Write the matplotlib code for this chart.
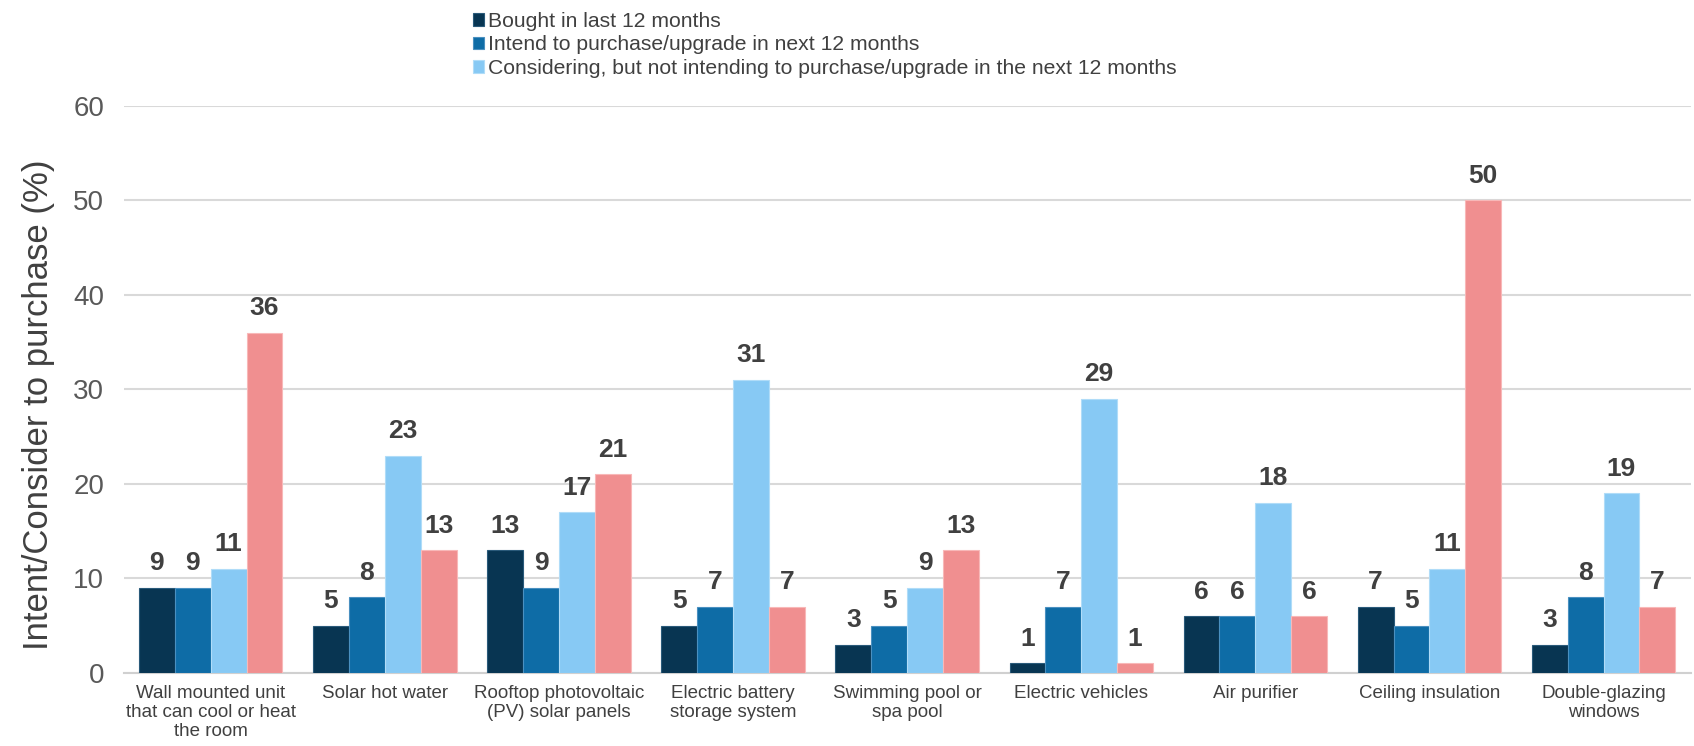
import matplotlib
matplotlib.use("Agg")
import matplotlib.pyplot as plt
import numpy as np

categories = ["Wall mounted unit\nthat can cool or heat\nthe room", "Solar hot water",
              "Rooftop photovoltaic\n(PV) solar panels", "Electric battery\nstorage system",
              "Swimming pool or\nspa pool", "Electric vehicles", "Air purifier",
              "Ceiling insulation", "Double-glazing\nwindows"]
bought = [9, 5, 13, 5, 3, 1, 6, 7, 3]
intend = [9, 8, 9, 7, 5, 7, 6, 5, 8]
considering = [11, 23, 17, 31, 9, 29, 18, 11, 19]
other = [36, 13, 21, 7, 13, 1, 6, 50, 7]
series_names = ["Bought in last 12 months",
                "Intend to purchase/upgrade in next 12 months",
                "Considering, but not intending to purchase/upgrade in the next 12 months",
                None]
colors = ["#083552", "#0E6CA6", "#87C9F4", "#F08F90"]
edges = ["#2a5a7a", "#4a90c0", "#b0dcf8", "#f8b8b8"]

plt.rcParams['font.family'] = ['Liberation Sans', 'DejaVu Sans']
fig = plt.figure(figsize=(16.94, 7.46), dpi=100)
ax = fig.add_axes([0.073, 0.098, 0.925, 0.76])

x = np.arange(len(categories))
w = 0.206
data = [bought, intend, considering, other]
for i, (vals, c, ec) in enumerate(zip(data, colors, edges)):
    bars = ax.bar(x + (i - 1.5) * w, vals, w, color=c, edgecolor=ec, linewidth=0.8, zorder=3,
                  label=series_names[i] if series_names[i] else "_nolegend_")
    for b, v in zip(bars, vals):
        ax.annotate(str(v), (b.get_x() + b.get_width() / 2, v), xytext=(0, 9),
                    textcoords="offset points", ha="center", va="bottom",
                    fontsize=19, fontweight="bold", color="#404040")

ax.set_xlim(-0.5, len(categories) - 0.5)
ax.set_ylim(0, 60)
ax.set_yticks(range(0, 61, 10))
ax.yaxis.grid(True, color="#D9D9D9", linewidth=1.5, zorder=0)
ax.set_axisbelow(True)
for s in ["top", "right", "left"]:
    ax.spines[s].set_visible(False)
ax.spines["bottom"].set_color("#D0D0D0")
ax.spines["bottom"].set_linewidth(1.5)
ax.tick_params(axis="y", length=0, labelsize=20, labelcolor="#595959", pad=14)
ax.tick_params(axis="x", length=0, labelsize=13.5, labelcolor="#404040", pad=9)
ax.set_xticks(x)
ax.set_xticklabels(categories, linespacing=1.15)
ax.set_ylabel("Intent/Consider to purchase (%)", fontsize=25, color="#404040")
ax.yaxis.set_label_coords(-0.044, 0.473)

fig.legend(loc="upper left", bbox_to_anchor=(0.274, 0.995), frameon=False,
           fontsize=15.2, handlelength=0.55, handleheight=0.55, handletextpad=0.2,
           labelspacing=0.2, labelcolor="#404040", borderaxespad=0)

fig.savefig("out.png", dpi=100)
